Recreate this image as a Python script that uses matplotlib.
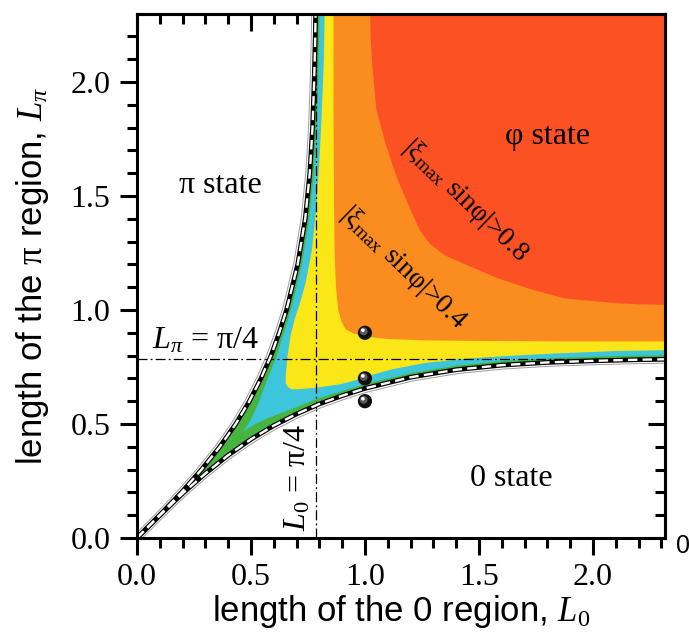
import numpy as np
import matplotlib
matplotlib.use("Agg")
import matplotlib.pyplot as plt
from matplotlib.ticker import MultipleLocator
from matplotlib.transforms import offset_copy
import matplotlib.patheffects as pe

plt.rcParams["mathtext.fontset"] = "custom"
plt.rcParams["mathtext.rm"] = "Liberation Serif"
plt.rcParams["mathtext.it"] = "Liberation Serif:italic"
plt.rcParams["mathtext.bf"] = "Liberation Serif:bold"

SERIF = "Liberation Serif"
SANS = "Liberation Sans"

# ---- phase boundaries -------------------------------------------------
# 0-state / phi-state boundary: L_pi along L_0
zero_L0 = [0.0, 0.1, 0.2, 0.3, 0.4, 0.5, 0.6, 0.7, 0.8, 0.9, 1.0,
           1.2, 1.4, 1.6, 1.8, 2.0, 2.2, 2.4]
zero_Lpi = [0.0, 0.099, 0.195, 0.283, 0.363, 0.433, 0.493, 0.544, 0.588,
            0.624, 0.656, 0.705, 0.738, 0.758, 0.770, 0.777, 0.782, 0.785]
# pi-state / phi-state boundary: L_0 along L_pi
pi_Lpi = [0.0, 0.1, 0.2, 0.3, 0.4, 0.5, 0.6, 0.7, 0.8, 0.9, 1.0,
          1.2, 1.4, 1.6, 1.8, 2.0, 2.2, 2.4]
pi_L0 = [0.0, 0.099, 0.195, 0.283, 0.363, 0.433, 0.493, 0.544, 0.588,
         0.624, 0.656, 0.705, 0.738, 0.758, 0.770, 0.777, 0.782, 0.785]

# ---- level curves of |xi_max sin(phi)| inside the phi region ----------
cyan_L0 = [0.803, 0.798, 0.790, 0.776, 0.756, 0.723, 0.683, 0.645, 0.610,
           0.566, 0.528, 0.500, 0.482, 0.465, 0.490, 0.520, 0.580, 0.680,
           0.790, 0.900, 1.030, 1.200, 1.400, 1.600, 1.850, 2.100, 2.400]
cyan_Lpi = [2.400, 2.100, 1.850, 1.600, 1.400, 1.200, 1.030, 0.900, 0.790,
            0.680, 0.580, 0.520, 0.490, 0.465, 0.482, 0.500, 0.528, 0.566,
            0.610, 0.645, 0.683, 0.723, 0.756, 0.776, 0.790, 0.798, 0.803]

yellow_L0 = [0.825, 0.820, 0.810, 0.800, 0.787, 0.767, 0.740, 0.718, 0.692,
             0.674, 0.661, 0.653, 0.652, 0.662, 0.680, 0.720, 0.800, 0.890,
             0.960, 1.040, 1.120, 1.260, 1.450, 1.650, 1.850, 2.100, 2.400]
yellow_Lpi = [2.400, 2.100, 1.850, 1.650, 1.450, 1.260, 1.120, 1.040, 0.960,
              0.890, 0.800, 0.720, 0.680, 0.662, 0.652, 0.653, 0.661, 0.674,
              0.692, 0.718, 0.740, 0.767, 0.787, 0.800, 0.810, 0.820, 0.825]

orange_L0 = [0.862, 0.862, 0.864, 0.867, 0.873, 0.883, 0.897, 0.915, 0.950,
             1.000, 1.100, 1.250, 1.500, 1.900, 2.400]
orange_Lpi = [2.400, 1.900, 1.500, 1.250, 1.100, 1.000, 0.950, 0.915, 0.897,
              0.883, 0.873, 0.867, 0.864, 0.862, 0.862]

red_L0 = [1.020, 1.025, 1.030, 1.050, 1.090, 1.140, 1.200, 1.240, 1.285,
          1.350, 1.440, 1.580, 1.730, 1.880, 2.100, 2.200, 2.400]
red_Lpi = [2.400, 2.200, 2.100, 1.880, 1.730, 1.580, 1.440, 1.350, 1.290,
           1.240, 1.200, 1.140, 1.090, 1.050, 1.030, 1.025, 1.020]

# sample junctions
ball_L0 = [1.0, 1.0, 1.0]
ball_Lpi = [0.9, 0.7, 0.6]

L_crit = np.pi / 4

X_MAX, Y_MAX = 2.316, 2.298
GREEN = "#46b43e"
CYAN = "#3dc5dc"
YELLOW = "#fbe718"
ORANGE = "#fb8c1f"
RED = "#fc5223"

fig = plt.figure(figsize=(6.89, 6.43), dpi=100)
ax = fig.add_axes([0.1988, 0.1633, 0.7663, 0.8149])
ax.set_xlim(0, X_MAX)
ax.set_ylim(0, Y_MAX)

corner = 2.5

# phi region (between the two boundaries) and nested level regions
phi_x = pi_L0[::-1] + zero_L0[1:]
phi_y = pi_Lpi[::-1] + zero_Lpi[1:]
levels = [(phi_x, phi_y, GREEN), (cyan_L0, cyan_Lpi, CYAN),
          (yellow_L0, yellow_Lpi, YELLOW), (orange_L0, orange_Lpi, ORANGE),
          (red_L0, red_Lpi, RED)]
for i, (lx, ly, col) in enumerate(levels):
    ax.fill(list(lx) + [corner, corner], list(ly) + [corner, corner],
            color=col, lw=0, zorder=1 + 0.1 * i)

# reference lines L = pi/4
dashdot = (0, (8, 2.5, 1.5, 2.5))
ax.axhline(L_crit, color="black", lw=0.9, ls=dashdot, zorder=2)
ax.axvline(L_crit, color="black", lw=0.9, ls=dashdot, zorder=2)

# phase boundaries: black line with white dashes and a thin grey outline
for bx, by, off in ((zero_L0, zero_Lpi, (1.0, -2.8)), (pi_L0, pi_Lpi, (-2.8, 1.0))):
    ax.plot(bx, by, color="0.6", lw=0.6, zorder=2.5, alpha=0.0,
            path_effects=[pe.Stroke(offset=off, linewidth=0.7, foreground="0.62", alpha=1.0)])
    ax.plot(bx, by, color="black", lw=3.4, zorder=3, solid_capstyle="butt")
    ax.plot(bx, by, color="white", lw=1.7, zorder=3.1, ls=(0, (4.0, 2.2)))

# sample points drawn as shaded spheres
ax.scatter(ball_L0, ball_Lpi, s=105, c="#101010", edgecolors="none", zorder=6)
mid = offset_copy(ax.transData, fig=fig, x=-0.9, y=1.0, units="points")
ax.scatter(ball_L0, ball_Lpi, s=32, c="#5a5a5a", edgecolors="none", zorder=6.1, transform=mid)
hi = offset_copy(ax.transData, fig=fig, x=-1.5, y=1.8, units="points")
ax.scatter(ball_L0, ball_Lpi, s=7, c="white", edgecolors="none", zorder=6.2, transform=hi)

# labels inside the plot
ax.text(0.364, 1.544, "π state", family=SERIF, fontsize=23, ha="center", va="center", zorder=8)
ax.text(1.803, 1.759, "φ state", family=SERIF, fontsize=23, ha="center", va="center", zorder=8)
ax.text(1.64, 0.263, "0 state", family=SERIF, fontsize=23, ha="center", va="center", zorder=8)
ax.text(1.44, 1.478, r"|ξ$_{\rm max}$ sinφ|>0.8", family=SERIF, fontsize=20,
        rotation=-44, rotation_mode="anchor", ha="center", va="center", zorder=8)
ax.text(1.167, 1.184, r"|ξ$_{\rm max}$ sinφ|>0.4", family=SERIF, fontsize=20,
        rotation=-44, rotation_mode="anchor", ha="center", va="center", zorder=8)
ax.text(0.298, 0.864, r"$L_\pi$ = π/4", family=SERIF, fontsize=23,
        ha="center", va="center", zorder=8)
ax.text(0.706, 0.263, r"$L_0$ = π/4", family=SERIF, fontsize=23, rotation=90,
        ha="center", va="center", zorder=8)

# axes, ticks
for s in ax.spines.values():
    s.set_linewidth(2.2)
    s.set_zorder(10)

major = [0.0, 0.5, 1.0, 1.5, 2.0]
ax.set_xticks(major)
ax.set_yticks(major)
ax.set_xticklabels([f"{v:.1f}" for v in major], family=SERIF, fontsize=23)
ax.set_yticklabels([f"{v:.1f}" for v in major], family=SERIF, fontsize=23)
ax.xaxis.set_minor_locator(MultipleLocator(0.1))
ax.yaxis.set_minor_locator(MultipleLocator(0.1))
ax.tick_params(which="major", direction="out", length=12, width=2.2, pad=6)
ax.tick_params(which="minor", direction="out", length=7, width=2.2)
ax.tick_params(axis="y", which="major", pad=7)

top = ax.secondary_xaxis("top")
top.set_xticks(major)
top.xaxis.set_minor_locator(MultipleLocator(0.1))
top.tick_params(which="major", direction="in", length=12, width=2.2, labeltop=False)
top.tick_params(which="minor", direction="in", length=7, width=2.2)
top.spines["top"].set_linewidth(2.2)
right = ax.secondary_yaxis("right")
right.set_yticks(major)
right.yaxis.set_minor_locator(MultipleLocator(0.1))
right.tick_params(which="major", direction="in", length=12, width=2.2, labelright=False)
right.tick_params(which="minor", direction="in", length=7, width=2.2)
right.spines["right"].set_linewidth(2.2)

ax.set_xlabel(r"length of the 0 region, $L_0$", family=SANS, fontsize=25)
ax.set_ylabel(r"length of the $\mathrm{\pi}$ region, $L_\pi$", family=SANS, fontsize=25)
ax.xaxis.set_label_coords(0.5, -0.105)
ax.yaxis.set_label_coords(-0.163, 0.5)

fig.text(676 / 689, 1 - 546 / 643, "0", family=SANS, fontsize=18, ha="left", va="center")

fig.savefig("out.png", dpi=100)
